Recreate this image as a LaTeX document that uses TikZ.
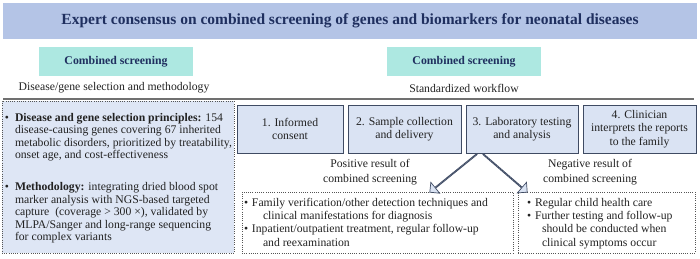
\documentclass[tikz,border=0pt]{standalone}
\usepackage{fontspec}
\setmainfont{Liberation Serif}
\usetikzlibrary{shapes.arrows,calc}
\definecolor{titlebg}{HTML}{B4C4E6}
\definecolor{navy}{HTML}{1F2F5F}
\definecolor{cyanbox}{HTML}{ADE8E1}
\definecolor{leftbg}{HTML}{DEE6F5}
\definecolor{stepbg}{HTML}{DAE3F3}
\definecolor{stepline}{HTML}{3F4B63}
\definecolor{txt}{HTML}{222222}
\definecolor{sepline}{HTML}{707070}
\definecolor{dotc}{HTML}{555555}
\newcommand{\bul}[1]{\makebox[#1][l]{\textbullet}}
\begin{document}
\begin{tikzpicture}[x=1pt,y=-1pt,
  every node/.style={inner sep=0pt, outer sep=0pt, text=txt},
  titlebox/.style={fill=titlebg, minimum width=694pt, minimum height=36pt, font=\fontsize{15.5}{18}\selectfont\bfseries, text=navy},
  hdrbox/.style={fill=cyanbox, minimum width=154pt, minimum height=29pt, font=\fontsize{11.8}{14}\selectfont\bfseries, text=navy},
  subtitle/.style={font=\fontsize{11.7}{13}\selectfont},
  stepbox/.style={draw=stepline, line width=0.8pt, fill=stepbg, minimum height=48pt, align=center, font=\fontsize{11.7}{13.3}\selectfont},
  dotbox/.style={draw=dotc, line width=0.9pt, dash pattern=on 0.9pt off 1.3pt},
  hollowarrow/.style={single arrow, draw=stepline, fill=stepbg, line width=0.7pt, minimum width=14pt, single arrow head extend=4pt, single arrow head indent=0pt, inner sep=0pt},
  body/.style={font=\fontsize{11.7}{12.6}\selectfont, align=left},
  body2/.style={font=\fontsize{11.7}{13.3}\selectfont, align=left},
  lbl/.style={font=\fontsize{11.7}{14.8}\selectfont, align=center}]
\useasboundingbox (0,0) rectangle (700,258);

% title
\node[titlebox] (title) at (350,21) {Expert consensus on combined screening of genes and biomarkers for neonatal diseases};

% headers
\node[hdrbox] (hl) at (116,61.5) {Combined screening};
\node[hdrbox] (hr) at (464,61.5) {Combined screening};
\node[subtitle] (sl) at (114,88) {Disease/gene selection and methodology};
\node[subtitle] (sr) at (464,88) {Standardized workflow};
\draw[sepline, line width=2pt] (3,99) -- (694,99);

% left box
\node[dotbox, fill=leftbg, minimum width=232pt, minimum height=152pt, anchor=north west] (leftbox) at (2,101) {};
\node[body, anchor=north west] (lefttext) at (5,113) {%
\bul{10pt}\textbf{Disease and gene selection principles:} 154\\
\hspace*{10pt}disease-causing genes covering 67 inherited\\
\hspace*{10pt}metabolic disorders, prioritized by treatability,\\
\hspace*{10pt}onset age, and cost-effectiveness\\[19pt]
\bul{10pt}\textbf{Methodology:} integrating dried blood spot\\
\hspace*{10pt}marker analysis with NGS-based targeted\\
\hspace*{10pt}capture\ \ (coverage > 300 ×), validated by\\
\hspace*{10pt}MLPA/Sanger and long-range sequencing\\
\hspace*{10pt}for complex variants};

% steps
\node[stepbox, minimum width=106pt] (s1) at (290,129) {1. Informed\\consent};
\node[stepbox, minimum width=113pt] (s2) at (404.5,129) {2. Sample collection\\and delivery};
\node[stepbox, minimum width=112pt] (s3) at (522,129) {3. Laboratory testing\\and analysis};
\node[stepbox, minimum width=113pt] (s4) at (639.5,129) {4. Clinician\\interprets the reports\\to the family};

% result boxes
\node[dotbox, minimum width=271pt, minimum height=61pt, anchor=north west] (posbox) at (242,192) {};
\node[dotbox, minimum width=177pt, minimum height=61pt, anchor=north west] (negbox) at (518,192) {};
\node[body2, anchor=north west] (postext) at (244,198) {%
\bul{8pt}Family verification/other detection techniques and\\
\hspace*{19pt}clinical manifestations for diagnosis\\
\bul{8pt}Inpatient/outpatient treatment, regular follow-up\\
\hspace*{19pt}and reexamination};
\node[body2, anchor=north west] (negtext) at (527,198) {%
\bul{8pt}Regular child health care\\
\bul{8pt}Further testing and follow-up\\
\hspace*{15pt}should be conducted when\\
\hspace*{15pt}clinical symptoms occur};

% labels
\node[lbl] (poslab) at (370,172.5) {Positive result of\\combined screening};
\node[lbl] (neglab) at (590,172.5) {Negative result of\\combined screening};

% arrows
\coordinate (aLs) at ($(s3.south west)+(11,1)$);
\coordinate (aLe) at ($(posbox.north west)+(188,0)$);
\coordinate (aRs) at ($(s3.south west)+(17,1)$);
\coordinate (aRe) at ($(negbox.north west)+(9,0)$);
\path let \p1=($(aLe)-(aLs)$) in node[hollowarrow, rotate={atan2(\y1,\x1)}, minimum height={veclen(\x1,\y1)}] (arL) at ($(aLs)!0.5!(aLe)$) {};
\path let \p1=($(aRe)-(aRs)$) in node[hollowarrow, rotate={atan2(\y1,\x1)}, minimum height={veclen(\x1,\y1)}] (arR) at ($(aRs)!0.5!(aRe)$) {};
\end{tikzpicture}
\end{document}
